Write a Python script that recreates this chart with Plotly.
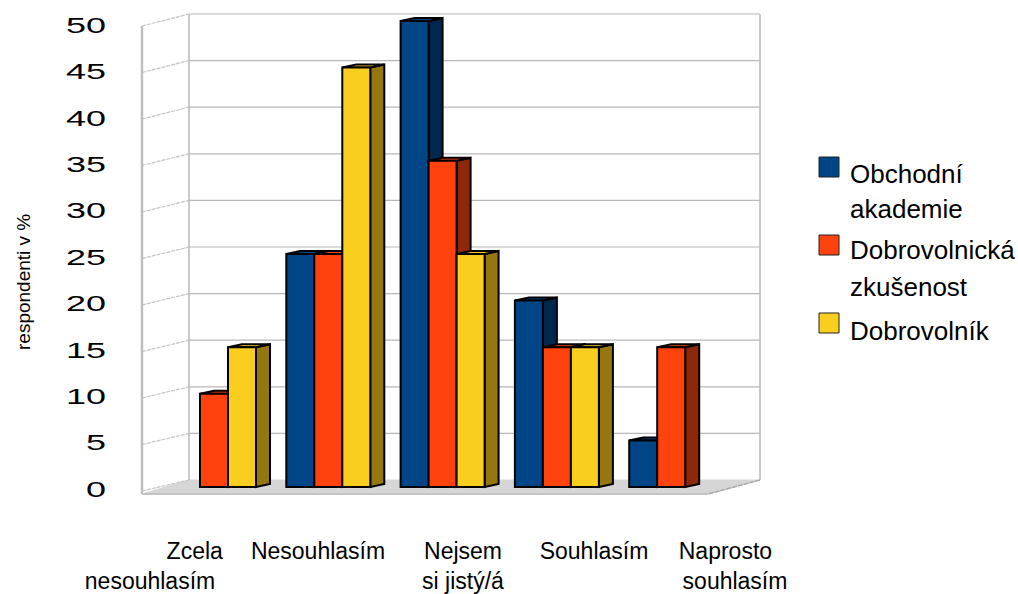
import plotly.graph_objects as go

categories = ["Zcela nesouhlasím", "Nesouhlasím", "Nejsem si jistý/á", "Souhlasím", "Naprosto souhlasím"]
series_names = ["Obchodní akademie", "Dobrovolnická zkušenost", "Dobrovolník"]
obchodni = [0, 25, 50, 20, 5]
zkusenost = [10, 25, 35, 15, 15]
dobrovolnik = [15, 45, 25, 15, 0]
y_ticks = [0, 5, 10, 15, 20, 25, 30, 35, 40, 45, 50]
x_tick_labels = ["\u00a0" * 14 + "Zcela<br>nesouhlasím", "Nesouhlasím", "Nejsem<br>si jistý/á",
                 "Souhlasím", "Naprosto" + "\u00a0" * 3 + "<br>souhlasím"]
x_tick_px = [150, 318, 463, 594, 735]
legend_lines = [["Obchodní", "akademie"], ["Dobrovolnická", "zkušenost"], ["Dobrovolník"]]
front_colors = ["#004586", "#ff420e", "#f9ce1f"]
side_colors = ["#00284e", "#8f2808", "#94780f"]

W, H = 1018, 594
L, R, T, B = 120, 790, 4, 525           # plot area in pixels
UX, UY = 114.3, 9.32                    # pixels per category, per value
X0, Y0 = 214, 487                       # pixel of category 0, value 0
BAR = 28 / UX
DX, DY = 14 / UX, 3 / UY


def ax(px):
    return (px - X0) / UX


def ay(py):
    return (Y0 - py) / UY


x_range = [ax(L), ax(R)]
y_range = [ay(B), ay(T)]
GRID = "#b8b8b8"
WALL = "#bdbdbd"

fig = go.Figure()


def poly(xs, ys, fill=None, color=GRID, width=1.0, dash=None):
    fig.add_trace(go.Scatter(
        x=xs, y=ys, mode="lines", hoverinfo="skip", showlegend=False,
        fill="toself" if fill else None, fillcolor=fill,
        line=dict(color=color, width=width, dash=dash)))


# floor
poly([ax(p) for p in (142, 189, 760, 708)], [ay(p) for p in (494, 480, 480, 494)], fill="#d6d6d6", color="#d6d6d6")
poly([ax(142), ax(708)], [ay(494), ay(494)], color="#c4c4c4", width=2)

# back wall grid and side wall slanted grid
for v in y_ticks:
    back = 480 - v * 9.32
    front = 491 - v * 9.3
    if v:
        poly([ax(189), ax(760)], [ay(back), ay(back)], color=GRID, width=1.2)
    poly([ax(142), ax(189)], [ay(front), ay(back)], color="#c4c4c4", width=1.2, dash="4px,1px")
poly([ax(760), ax(708)], [ay(480), ay(494)], color="#a8a8a8", width=1.5, dash="5px,1px")
poly([ax(189), ax(189)], [ay(480), ay(14)], color=WALL, width=1.6)
poly([ax(760), ax(760)], [ay(480), ay(14)], color=WALL, width=1.6)
poly([ax(142), ax(142)], [ay(494), ay(26)], color=WALL, width=2.4)

# depth faces of the bars
all_values = [obchodni, zkusenost, dobrovolnik]
for s, values in enumerate(all_values):
    sx, sy, tx, ty = [], [], [], []
    for i, v in enumerate(values):
        if not v:
            continue
        left = i + (s - 1.5) * BAR
        right = left + BAR
        sx += [right, right + DX, right + DX, right, right, None]
        sy += [v, v + DY, DY, 0, v, None]
        tx += [left, left + DX, right + DX, right, left, None]
        ty += [v, v + DY, v + DY, v, v, None]
    poly(sx, sy, fill=side_colors[s], color="#000000", width=2)
    poly(tx, ty, fill=front_colors[s], color="#000000", width=2)

# front faces
for s, values in enumerate(all_values):
    fig.add_trace(go.Bar(
        x=list(range(len(categories))), y=[v if v else None for v in values], name=series_names[s],
        marker=dict(color=front_colors[s], line=dict(color="#000000", width=2)),
        xaxis="x2", yaxis="y2", showlegend=False,
        customdata=categories, hovertemplate="%{customdata}: %{y}<extra></extra>"))

# legend
annotations, shapes = [], []
swatch_y = [157, 235, 313]
text_y = [[174, 209], [250, 287], [331]]
for s, lines in enumerate(legend_lines):
    shapes.append(dict(type="rect", xref="paper", yref="paper",
                       x0=(819 - L) / (R - L), x1=(839 - L) / (R - L),
                       y0=(B - swatch_y[s]) / (B - T), y1=(B - swatch_y[s] - 20) / (B - T),
                       fillcolor=front_colors[s], line=dict(color="#222222", width=1)))
    for line, py in zip(lines, text_y[s]):
        annotations.append(dict(text=line, xref="paper", yref="paper", showarrow=False,
                                x=(848 - L) / (R - L), xanchor="left",
                                y=(B - py) / (B - T), yanchor="middle",
                                font=dict(family="Liberation Sans", size=26, color="#000000")))

# y title
annotations.append(dict(text="respondenti v %", xref="paper", yref="paper", showarrow=False,
                        x=(24 - L) / (R - L), xanchor="center",
                        y=(B - 282) / (B - T), yanchor="middle", textangle=-90,
                        font=dict(family="Liberation Sans", size=19, color="#000000")))

fig.update_layout(
    width=W, height=H, margin=dict(l=L, r=W - R, t=T, b=H - B),
    paper_bgcolor="#ffffff", plot_bgcolor="rgba(0,0,0,0)",
    barmode="group", bargap=1 - 3 * BAR, bargroupgap=0,
    showlegend=False, annotations=annotations, shapes=shapes,
    xaxis=dict(range=x_range, tickmode="array", tickvals=[ax(p) for p in x_tick_px], ticktext=x_tick_labels,
               showgrid=False, zeroline=False, showline=False, ticks="", automargin=False,
               tickangle=0, ticklabelstandoff=10,
               tickfont=dict(family="Liberation Sans", size=23, color="#000000")),
    yaxis=dict(range=y_range, tickmode="array", tickvals=[ay(489 - v * 9.28) for v in y_ticks],
               ticktext=[str(v) for v in y_ticks], automargin=False,
               showgrid=False, zeroline=False, showline=False, ticks="", ticklabelstandoff=13,
               tickfont=dict(family="Liberation Sans", size=22, color="#000000")),
    xaxis2=dict(range=x_range, overlaying="x", visible=False, fixedrange=True),
    yaxis2=dict(range=y_range, overlaying="y", visible=False, fixedrange=True),
)

stretch = """
document.body.style.margin = '0';
document.querySelectorAll('.ytick text').forEach(function (t) {
  t.setAttribute('lengthAdjust', 'spacingAndGlyphs');
  t.setAttribute('textLength', String(t.textContent.length * 20));
});
"""
fig.write_html("out.html", post_script=stretch, config={"displayModeBar": False})
